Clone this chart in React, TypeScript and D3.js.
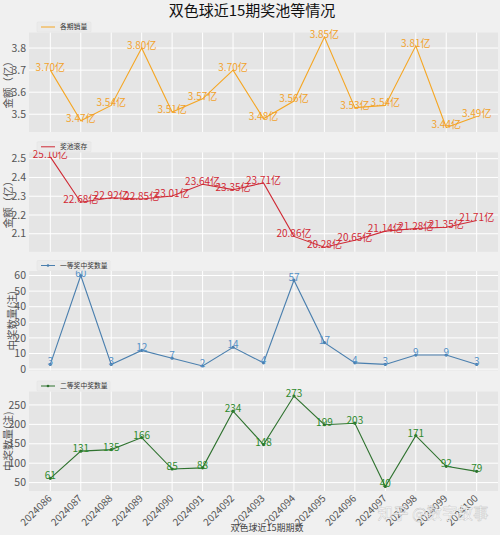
import React from "react";
import * as d3 from "d3";

const periods = ["2024086","2024087","2024088","2024089","2024090","2024091","2024092","2024093","2024094","2024095","2024096","2024097","2024098","2024099","2024100"];
const sales = [3.70,3.47,3.54,3.80,3.51,3.57,3.70,3.48,3.56,3.85,3.53,3.54,3.81,3.44,3.49];
const pool = [25.10,22.68,22.92,22.85,23.01,23.64,23.35,23.71,20.86,20.28,20.65,21.14,21.28,21.35,21.71];
const first = [3,60,3,12,7,2,14,4,57,17,4,3,9,9,3];
const second = [61,131,135,166,85,88,234,148,273,199,203,40,171,92,79];

const salesTicks = [3.5,3.6,3.7,3.8];
const poolTicks = [2.1,2.2,2.3,2.4,2.5];
const firstTicks = [0,10,20,30,40,50,60];
const secondTicks = [50,100,150,200,250];

const FONT = "'Noto Sans CJK SC', 'Noto Sans', sans-serif";
const W = 500, H = 535;
const LEFT = 29, RIGHT = 498;
const PH = 99.5;
const tops = [32.5, 152.3, 271, 391.5];

const x = d3.scaleLinear().domain([-0.7, 14.7]).range([LEFT, RIGHT]);

function yScale(vals: number[], top: number) {
  const mn = d3.min(vals)!, mx = d3.max(vals)!;
  const pad = (mx - mn) * 0.05;
  return d3.scaleLinear().domain([mn - pad, mx + pad]).range([top + PH, top]);
}

type PanelProps = {
  vals: number[];
  top: number;
  ticks: number[];
  tickFmt: (v: number) => string;
  labels: string[];
  lineColor: string;
  textColor: string;
  marker: boolean;
  legend: string;
  ylabel: string;
  ylabelX: number;
};

function Panel(p: PanelProps) {
  const y = yScale(p.vals, p.top);
  const line = d3.line<number>().x((_, i) => x(i)).y((v) => y(v));
  const legY = p.top - 10.5;
  return (
    <g>
      <rect x={LEFT} y={p.top} width={RIGHT - LEFT} height={PH} fill="#e5e5e5" />
      {periods.map((_, i) => (
        <line key={"gx" + i} x1={x(i)} x2={x(i)} y1={p.top} y2={p.top + PH} stroke="#ffffff" strokeWidth={1} />
      ))}
      {p.ticks.map((t) => (
        <g key={"gy" + t}>
          <line x1={LEFT} x2={RIGHT} y1={y(t)} y2={y(t)} stroke="#ffffff" strokeWidth={1} />
          <text x={LEFT - 3} y={y(t)} dy="0.35em" textAnchor="end" fontSize={10.5} fill="#555">{p.tickFmt(t)}</text>
        </g>
      ))}
      <path d={line(p.vals) || ""} fill="none" stroke={p.lineColor} strokeWidth={1.1} />
      {p.marker && p.vals.map((v, i) => (
        <circle key={"m" + i} cx={x(i)} cy={y(v)} r={1.6} fill={p.lineColor} />
      ))}
      {p.vals.map((v, i) => (
        <text key={"l" + i} x={x(i)} y={y(v) + 1} textAnchor="middle" fontSize={10} fill={p.textColor}>{p.labels[i]}</text>
      ))}
      <text transform={`translate(${p.ylabelX},${p.top + PH / 2}) rotate(-90)`} textAnchor="middle" dy="0.35em" fontSize={10.5} fill="#555">{p.ylabel}</text>
      <rect x={37} y={legY} width={p.legend.length > 4 ? 73 : 54} height={10} fill="#ebebeb" stroke="#e0e0e0" strokeWidth={0.5} rx={1} />
      <line x1={41} x2={55} y1={legY + 5} y2={legY + 5} stroke={p.lineColor} strokeWidth={1} />
      {p.marker && <circle cx={48} cy={legY + 5} r={1.3} fill={p.lineColor} />}
      <text x={60} y={legY + 5} dy="0.35em" fontSize={6.8} fill="#333">{p.legend}</text>
    </g>
  );
}

export default function App() {
  const bottom = tops[3] + PH;
  return (
    <svg width={W} height={H} style={{ display: "block", position: "absolute", left: 0, top: 0 }} fontFamily={FONT}>
      <rect x={0} y={0} width={W} height={H} fill="#f0f0f0" />
      <text x={252} y={16} textAnchor="middle" fontSize={15} fill="#111">双色球近15期奖池等情况</text>
      <Panel vals={sales} top={tops[0]} ticks={salesTicks} tickFmt={(v) => v.toFixed(1)}
        labels={sales.map((v) => v.toFixed(2) + "亿")} lineColor="#f5a623" textColor="#f2a22c"
        marker={false} legend="各期销量" ylabel="金额（亿）" ylabelX={8} />
      <Panel vals={pool.map((v) => v / 10)} top={tops[1]} ticks={poolTicks} tickFmt={(v) => v.toFixed(1)}
        labels={pool.map((v) => v.toFixed(2) + "亿")} lineColor="#cf2a35" textColor="#d22a35"
        marker={false} legend="奖池滚存" ylabel="金额（亿）" ylabelX={8} />
      <Panel vals={first} top={tops[2]} ticks={firstTicks} tickFmt={(v) => String(v)}
        labels={first.map((v) => String(v))} lineColor="#4a7fae" textColor="#5592c8"
        marker={true} legend="一等奖中奖数量" ylabel="中奖数量(注)" ylabelX={12} />
      <Panel vals={second} top={tops[3]} ticks={secondTicks} tickFmt={(v) => String(v)}
        labels={second.map((v) => String(v))} lineColor="#2f722f" textColor="#2e8a2e"
        marker={true} legend="二等奖中奖数量" ylabel="中奖数量(注)" ylabelX={8} />
      {periods.map((p, i) => (
        <text key={p} transform={`translate(${x(i) + 2},${bottom + 8}) rotate(-45)`} textAnchor="end" fontSize={10} fill="#555">{p}</text>
      ))}
      <text x={267} y={531} textAnchor="middle" fontSize={9} fill="#444">双色球近15期期数</text>
      <text x={433} y={519} textAnchor="middle" fontSize={15.5} fill="#ffffff" fillOpacity={0.85} stroke="#9a9a9a" strokeWidth={0.4} strokeOpacity={0.6}>知乎 @数字故事</text>
    </svg>
  );
}
